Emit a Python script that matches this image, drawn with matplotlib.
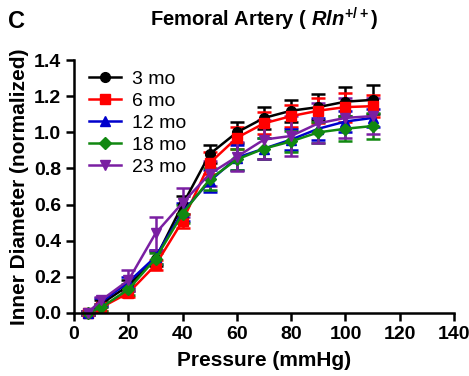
import matplotlib.pyplot as plt

plt.rcParams['font.family'] = ['Liberation Sans', 'DejaVu Sans']
plt.rcParams['font.weight'] = 'bold'
plt.rcParams['mathtext.fontset'] = 'custom'
plt.rcParams['mathtext.it'] = 'Liberation Sans:italic:bold'
plt.rcParams['mathtext.rm'] = 'Liberation Sans:bold'

pressure = [5, 10, 20, 30, 40, 50, 60, 70, 80, 90, 100, 110]

mo3 = [0.0, 0.05, 0.15, 0.30, 0.60, 0.88, 1.00, 1.08, 1.12, 1.14, 1.17, 1.18]
mo3_err = [0.01, 0.02, 0.03, 0.04, 0.05, 0.05, 0.06, 0.06, 0.06, 0.07, 0.08, 0.08]
mo6 = [0.0, 0.03, 0.11, 0.265, 0.51, 0.83, 0.97, 1.05, 1.09, 1.12, 1.14, 1.145]
mo6_err = [0.01, 0.02, 0.02, 0.03, 0.04, 0.06, 0.06, 0.06, 0.06, 0.07, 0.08, 0.06]
mo12 = [0.0, 0.06, 0.17, 0.31, 0.56, 0.73, 0.86, 0.91, 0.96, 1.02, 1.06, 1.08]
mo12_err = [0.01, 0.02, 0.03, 0.04, 0.05, 0.06, 0.07, 0.06, 0.06, 0.06, 0.06, 0.05]
mo18 = [0.0, 0.03, 0.13, 0.30, 0.55, 0.74, 0.85, 0.91, 0.95, 1.00, 1.02, 1.035]
mo18_err = [0.01, 0.02, 0.03, 0.03, 0.05, 0.06, 0.06, 0.06, 0.06, 0.06, 0.07, 0.07]
mo23 = [0.0, 0.07, 0.18, 0.44, 0.61, 0.77, 0.865, 0.96, 0.98, 1.05, 1.08, 1.09]
mo23_err = [0.01, 0.02, 0.06, 0.09, 0.08, 0.07, 0.08, 0.11, 0.11, 0.11, 0.11, 0.10]

series = [
    ('3 mo', mo3, mo3_err, 'black', 'o'),
    ('6 mo', mo6, mo6_err, '#ff0000', 's'),
    ('12 mo', mo12, mo12_err, '#0000cc', '^'),
    ('18 mo', mo18, mo18_err, '#118811', 'D'),
    ('23 mo', mo23, mo23_err, '#7a1fa2', 'v'),
]

fig = plt.figure(figsize=(4.69, 3.76), dpi=100)
ax = fig.add_axes([0.158, 0.168, 0.81, 0.672])

handles = []
for label, y, err, color, marker in series:
    eb = ax.errorbar(pressure, y, yerr=err, color=color, marker=marker,
                     markersize=7 if marker != 'D' else 6, linewidth=1.8,
                     elinewidth=1.8, capsize=5, capthick=1.8, label=label,
                     clip_on=False)
    eb[0].set_clip_on(False)
    handles.append(eb[0])

ax.set_xlim(0, 140)
ax.set_ylim(0, 1.4)
ax.set_xticks(range(0, 141, 20))
ax.set_yticks([0, 0.2, 0.4, 0.6, 0.8, 1.0, 1.2, 1.4])
ax.set_yticklabels(['0.0', '0.2', '0.4', '0.6', '0.8', '1.0', '1.2', '1.4'])
for side in ['top', 'right']:
    ax.spines[side].set_visible(False)
for side in ['left', 'bottom']:
    ax.spines[side].set_linewidth(1.8)
ax.tick_params(width=1.8, length=6, labelsize=14)
for t in ax.get_xticklabels() + ax.get_yticklabels():
    t.set_fontweight('bold')

ax.set_xlabel('Pressure (mmHg)', fontsize=15, fontweight='bold', labelpad=6)
ax.set_ylabel('Inner Diameter (normalized)', fontsize=15, fontweight='bold', labelpad=3)
ax.set_title(r'Femoral Artery ( $\mathit{Rln}^{+/+}$)', fontsize=14.5, fontweight='bold', pad=24)
fig.text(0.017, 0.925, 'C', fontsize=17, fontweight='bold')

ax.legend(handles, [s[0] for s in series], loc='upper left', frameon=False,
          handlelength=1.6, handletextpad=0.6,
          borderaxespad=0.0, labelspacing=0.22, bbox_to_anchor=(0.02, 0.99),
          prop={'weight': 'normal', 'size': 14})

fig.savefig('out.png', dpi=100)
